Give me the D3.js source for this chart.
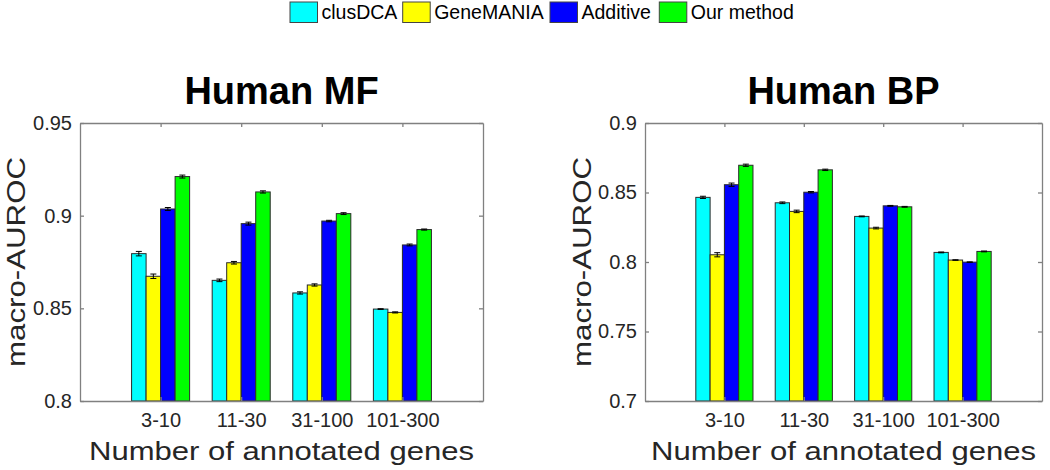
<!DOCTYPE html>
<html>
<head>
<meta charset="utf-8">
<script src="https://cdn.jsdelivr.net/npm/d3@7"></script>
<style>
  body { margin: 0; background: #fff; }
  text { font-family: "Liberation Sans", Arial, sans-serif; }
</style>
</head>
<body>
<div id="chart"></div>
<script>
const categories = ["3-10", "11-30", "31-100", "101-300"];
const methods = ["clusDCA", "GeneMANIA", "Additive", "Our method"];
const colors = ["#00ffff", "#ffff00", "#0000ff", "#00ff00"];

// Human MF
const mfClusDCA   = [0.8795, 0.8651, 0.8583, 0.8496];
const mfGeneMANIA = [0.8673, 0.8746, 0.8626, 0.8478];
const mfAdditive  = [0.9036, 0.8957, 0.8971, 0.8842];
const mfOurs      = [0.9211, 0.9128, 0.9011, 0.8925];
const mfErrClusDCA   = [0.0012, 0.0007, 0.0006, 0.0002];
const mfErrGeneMANIA = [0.0012, 0.0007, 0.0006, 0.0003];
const mfErrAdditive  = [0.0008, 0.0008, 0.0004, 0.0005];
const mfErrOurs      = [0.0008, 0.0006, 0.0005, 0.0003];
const mfTicks = [0.8, 0.85, 0.9, 0.95];

// Human BP
const bpClusDCA   = [0.8465, 0.8426, 0.8328, 0.8069];
const bpGeneMANIA = [0.8052, 0.8364, 0.8244, 0.8014];
const bpAdditive  = [0.8556, 0.8502, 0.8404, 0.7999];
const bpOurs      = [0.8696, 0.8663, 0.8397, 0.8076];
const bpErrClusDCA   = [0.0008, 0.0006, 0.0003, 0.0003];
const bpErrGeneMANIA = [0.0015, 0.0009, 0.0006, 0.0002];
const bpErrAdditive  = [0.0012, 0.0005, 0.0003, 0.0002];
const bpErrOurs      = [0.0008, 0.0005, 0.0003, 0.0003];
const bpTicks = [0.7, 0.75, 0.8, 0.85, 0.9];

const width = 1050;
const height = 470;
const axisColor = "#808080";
const textColor = "#262626";

const svg = d3.select("#chart")
    .append("svg")
    .attr("width", width)
    .attr("height", height);

function dessinerPanneau(opts) {
    const { left, right, top, bottom, title, series, errors, ticks } = opts;

    const x = d3.scaleLinear().domain([0, categories.length + 1]).range([left, right]);
    const y = d3.scaleLinear().domain([ticks[0], ticks[ticks.length - 1]]).range([bottom, top]);
    const unit = x(1) - x(0);
    const inner = d3.scaleBand()
        .domain(methods)
        .range([-0.36 * unit, 0.36 * unit]);

    const g = svg.append("g");

    // bars + error bars
    const rows = [];
    categories.forEach((c, i) => {
        methods.forEach((m, j) => {
            rows.push({ cat: c, i: i, m: m, j: j, v: series[j][i], e: errors[j][i] });
        });
    });

    g.selectAll("rect.bar")
        .data(rows)
        .enter()
        .append("rect")
        .attr("class", "bar")
        .attr("x", d => x(d.i + 1) + inner(d.m))
        .attr("width", inner.bandwidth())
        .attr("y", d => y(d.v))
        .attr("height", d => y(ticks[0]) - y(d.v))
        .attr("fill", d => colors[d.j])
        .attr("stroke", "#2a2a2a")
        .attr("stroke-width", 1);

    const eb = g.selectAll("g.err")
        .data(rows)
        .enter()
        .append("g")
        .attr("class", "err")
        .attr("stroke", "#000")
        .attr("stroke-width", 1);
    const cx = d => x(d.i + 1) + inner(d.m) + inner.bandwidth() / 2;
    eb.append("line")
        .attr("x1", cx).attr("x2", cx)
        .attr("y1", d => y(d.v - d.e)).attr("y2", d => y(d.v + d.e));
    eb.append("line")
        .attr("x1", d => cx(d) - 3).attr("x2", d => cx(d) + 3)
        .attr("y1", d => y(d.v - d.e)).attr("y2", d => y(d.v - d.e));
    eb.append("line")
        .attr("x1", d => cx(d) - 3).attr("x2", d => cx(d) + 3)
        .attr("y1", d => y(d.v + d.e)).attr("y2", d => y(d.v + d.e));

    // axes (box with inner ticks)
    const fmt = d => String(+d.toFixed(2));
    const yAxis = g.append("g")
        .attr("transform", `translate(${left},0)`)
        .call(d3.axisLeft(y).tickValues(ticks).tickFormat(fmt).tickSizeInner(-4).tickSizeOuter(0).tickPadding(8));
    const yAxisR = g.append("g")
        .attr("transform", `translate(${right},0)`)
        .call(d3.axisRight(y).tickValues(ticks).tickFormat("").tickSizeInner(-4).tickSizeOuter(0));
    const catPos = categories.map((c, i) => i + 1);
    const xAxis = g.append("g")
        .attr("transform", `translate(0,${bottom})`)
        .call(d3.axisBottom(x).tickValues(catPos).tickFormat(d => categories[d - 1]).tickSizeInner(-4).tickSizeOuter(0).tickPadding(10));
    const xAxisT = g.append("g")
        .attr("transform", `translate(0,${top})`)
        .call(d3.axisTop(x).tickValues(catPos).tickFormat("").tickSizeInner(-4).tickSizeOuter(0));

    [yAxis, yAxisR, xAxis, xAxisT].forEach(a => {
        a.select(".domain").attr("stroke", axisColor).attr("stroke-width", 1.3);
        a.selectAll(".tick line").attr("stroke", axisColor).attr("stroke-width", 1.3);
        a.selectAll(".tick text")
            .attr("fill", textColor)
            .style("font-size", "20px")
            .style("font-family", '"Liberation Sans", Arial, sans-serif');
    });
    xAxis.selectAll(".tick text").attr("dy", "0.8em");

    // title
    g.append("text")
        .attr("x", (left + right) / 2)
        .attr("y", 104)
        .attr("text-anchor", "middle")
        .attr("font-weight", "bold")
        .attr("font-size", 38)
        .attr("fill", "#000")
        .text(title);

    // x label
    g.append("text")
        .attr("x", (left + right) / 2)
        .attr("y", 460)
        .attr("text-anchor", "middle")
        .attr("font-size", 26)
        .attr("fill", textColor)
        .attr("textLength", 385)
        .attr("lengthAdjust", "spacingAndGlyphs")
        .text("Number of annotated genes");

    // y label
    g.append("text")
        .attr("transform", `translate(${opts.ylabelX},${(top + bottom) / 2}) rotate(-90)`)
        .attr("text-anchor", "middle")
        .attr("font-size", 26)
        .attr("fill", textColor)
        .attr("textLength", 210)
        .attr("lengthAdjust", "spacingAndGlyphs")
        .text("macro-AUROC");
}

dessinerPanneau({
    left: 80, right: 483, top: 123, bottom: 401,
    title: "Human MF",
    series: [mfClusDCA, mfGeneMANIA, mfAdditive, mfOurs],
    errors: [mfErrClusDCA, mfErrGeneMANIA, mfErrAdditive, mfErrOurs],
    ticks: mfTicks,
    ylabelX: 25
});

dessinerPanneau({
    left: 645, right: 1042, top: 123, bottom: 401,
    title: "Human BP",
    series: [bpClusDCA, bpGeneMANIA, bpAdditive, bpOurs],
    errors: [bpErrClusDCA, bpErrGeneMANIA, bpErrAdditive, bpErrOurs],
    ticks: bpTicks,
    ylabelX: 591
});

// legend
const legendX = [290, 402.7, 550, 659.3];
const legend = svg.append("g");
const item = legend.selectAll("g")
    .data(methods)
    .enter()
    .append("g")
    .attr("transform", (d, i) => `translate(${legendX[i]},2)`);
item.append("rect")
    .attr("width", 27.5)
    .attr("height", 20.5)
    .attr("fill", (d, i) => colors[i])
    .attr("stroke", "#444")
    .attr("stroke-width", 1);
item.append("text")
    .attr("x", 31.5)
    .attr("y", 17)
    .attr("font-size", 19.5)
    .attr("fill", "#000")
    .text(d => d);
</script>
</body>
</html>
